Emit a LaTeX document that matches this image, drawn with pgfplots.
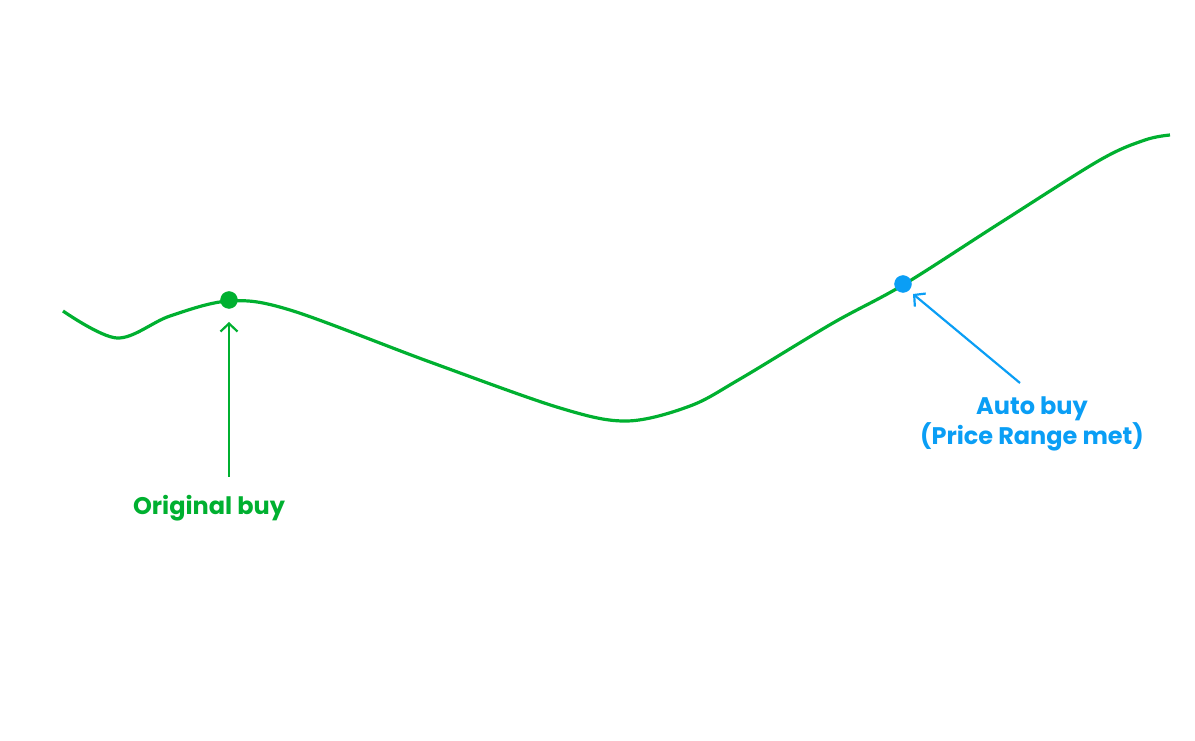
\documentclass[border=0pt]{standalone}
\usepackage{pgfplots}
\pgfplotsset{compat=1.18}
\usepackage{fontspec}
\setmainfont{Poppins}
\usetikzlibrary{arrows.meta}
\definecolor{buygreen}{RGB}{0,176,48}
\definecolor{autoblue}{RGB}{10,158,245}
\begin{document}
\begin{tikzpicture}
    \begin{axis}[
        scale only axis,
        width=1195pt,height=741pt,
        xmin=0,xmax=1195,ymin=0,ymax=741,
        y dir=reverse,
        hide axis,
        clip=false
    ]
        % price path, read off in pixel coordinates (y downwards)
        \addplot[buygreen,line width=3.2pt,smooth,tension=0.55]
        coordinates{(63,311)(117,338)(170,316)(229,301)(290,310)
            (430,362)(560,408)(627,421)(690,406)(740,379)
            (833,323)(903,285)(1000,223)(1100,160)(1145,140)(1170,135)};
        \addplot[only marks,mark=*,mark size=8.5pt,buygreen]
        coordinates{(229,300)};
        \addplot[only marks,mark=*,mark size=8.5pt,autoblue]
        coordinates{(903,284)};
        \addplot[buygreen,line width=2.2pt,-{Straight Barb[length=8pt,width=17pt]}]
        coordinates{(229,477)(229,322)};
        \addplot[autoblue,line width=2.2pt,-{Straight Barb[length=8pt,width=17pt]}]
        coordinates{(1020,383)(913,294)};
        \node[buygreen,font=\fontsize{24}{29}\selectfont\bfseries] at (axis cs:209,508) {Original buy};
        \node[autoblue,font=\fontsize{24}{28}\selectfont\bfseries,align=center] at (axis cs:1032,424) {Auto buy\\(Price Range met)};
    \end{axis}
    \path (current axis.south west) rectangle (current axis.north east);
\end{tikzpicture}
\end{document}
